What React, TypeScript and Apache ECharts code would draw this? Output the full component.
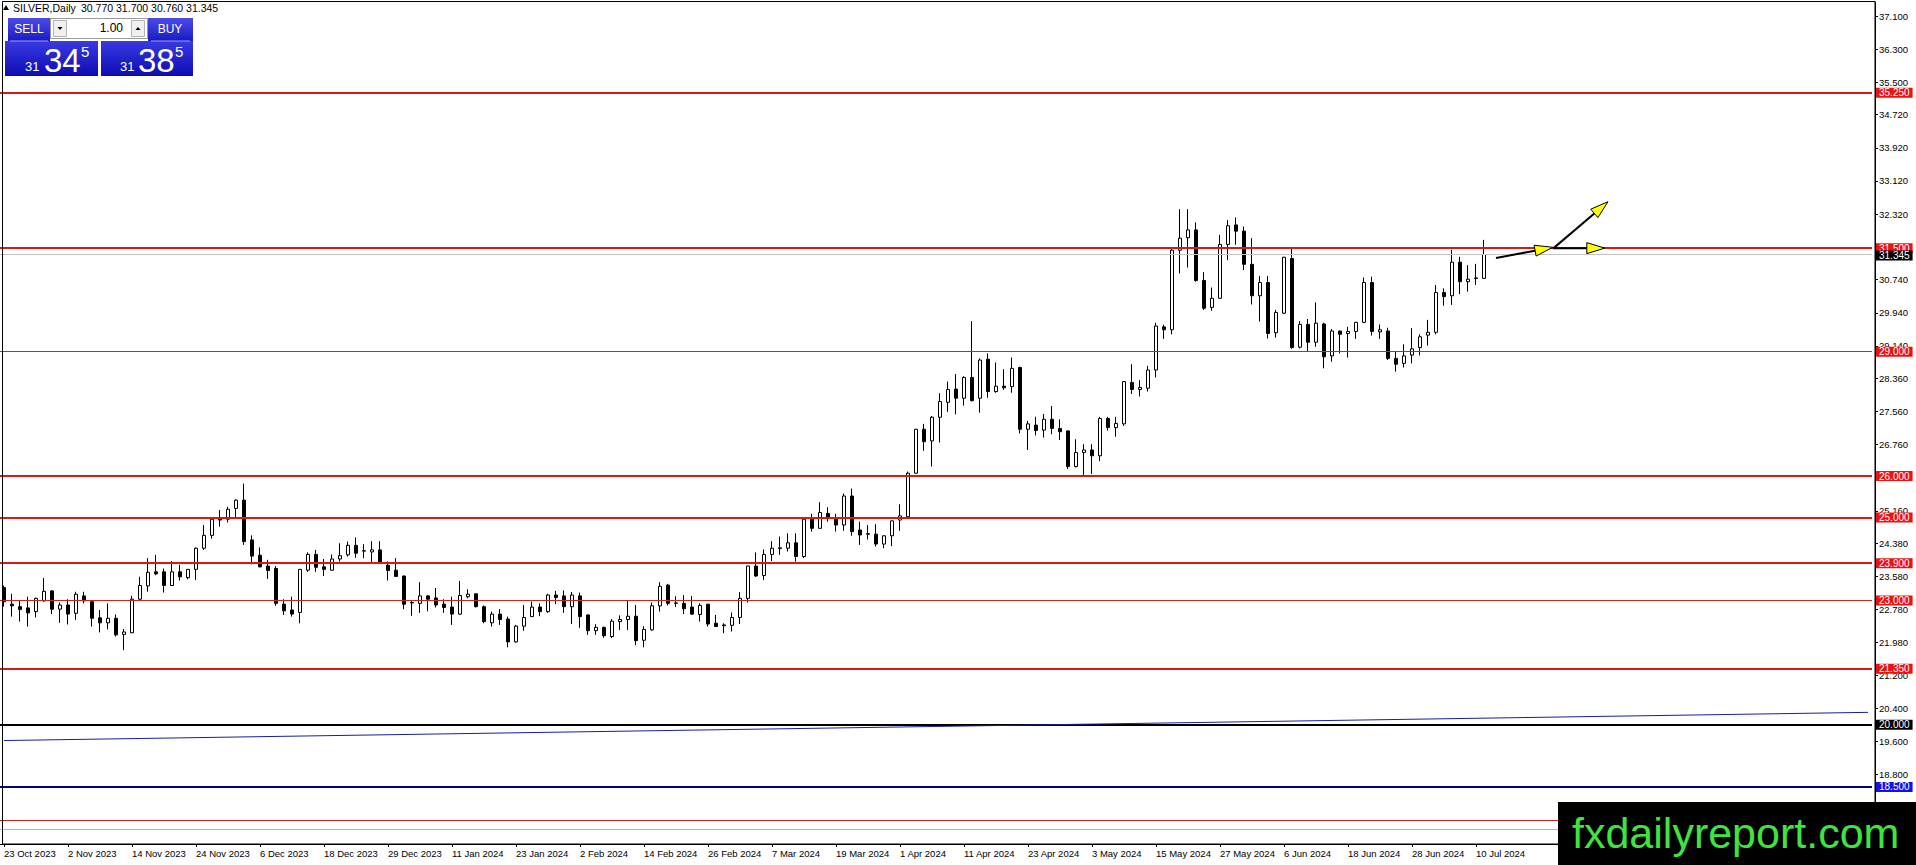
import React, { useEffect, useRef } from 'react';
import * as echarts from 'echarts';

// ---------- data ----------
const SYMBOL = 'SILVER';
const TIMEFRAME = 'Daily';
const START_DATE = '2023-10-23';
const HOLIDAYS = ['2023-12-25', '2024-01-01', '2024-03-29'];
const SLOT_COUNT = 234; // bar slots across the chart (incl. empty shift on the right)
const LABEL_EVERY = 8;
const MONTHS = ['Jan', 'Feb', 'Mar', 'Apr', 'May', 'Jun', 'Jul', 'Aug', 'Sep', 'Oct', 'Nov', 'Dec'];

const OPEN = [
  23.31, 22.91, 22.85, 22.82, 22.73, 22.99, 23.23, 22.79, 22.89, 22.69,
  23.11, 22.97, 22.58, 22.46, 22.57, 22.18, 22.22, 23.03, 23.35, 23.69,
  23.69, 23.36, 23.69, 23.55, 23.75, 24.26, 24.57, 24.97, 24.96, 25.22,
  25.42, 24.46, 24.09, 23.83, 23.77, 22.91, 22.77, 22.71, 23.73, 24.11,
  23.81, 23.73, 24.00, 24.10, 24.33, 24.19, 24.17, 24.22, 23.85, 23.73,
  23.59, 22.94, 22.93, 23.11, 23.06, 22.91, 22.84, 22.67, 23.09, 23.16,
  22.85, 22.46, 22.67, 22.55, 22.00, 22.38, 22.61, 22.84, 22.73, 23.13,
  23.11, 22.85, 23.11, 22.65, 22.27, 22.35, 22.13, 22.49, 22.54, 22.62,
  22.04, 22.29, 22.87, 23.37, 22.93, 22.93, 22.84, 22.66, 22.91, 22.45,
  22.41, 22.40, 22.59, 23.05, 23.83, 23.60, 24.11, 24.25, 24.26, 24.39,
  24.06, 24.96, 24.74, 25.10, 25.00, 24.82, 25.52, 24.70, 24.61, 24.60,
  24.36, 24.56, 24.94, 25.02, 26.07, 27.13, 26.85, 27.42, 27.78, 28.10,
  27.88, 28.38, 27.88, 28.82, 28.04, 28.17, 28.16, 28.62, 27.13, 27.23,
  27.11, 27.37, 27.15, 27.09, 26.23, 26.57, 26.63, 26.49, 27.39, 27.17,
  27.26, 28.26, 28.09, 28.12, 28.56, 29.60, 29.53, 31.45, 31.75, 31.94,
  30.72, 30.07, 30.29, 31.59, 32.06, 31.91, 31.11, 30.35, 30.67, 29.46,
  29.93, 31.25, 29.11, 29.66, 29.23, 29.67, 28.90, 29.50, 29.44, 29.49,
  29.71, 30.67, 29.48, 29.50, 28.84, 28.72, 28.92, 29.10, 29.40, 29.47,
  30.43, 30.35, 31.16, 30.69, 30.78, 30.77,
];
const HIGH = [
  23.36, 23.16, 23.01, 23.09, 23.07, 23.54, 23.25, 22.95, 23.03, 23.21,
  23.21, 23.01, 22.77, 22.93, 22.66, 22.31, 23.11, 23.57, 24.02, 24.10,
  23.77, 23.95, 23.86, 23.76, 24.28, 24.82, 24.98, 25.18, 25.26, 25.44,
  25.82, 24.57, 24.28, 23.98, 23.83, 23.03, 23.09, 23.76, 24.16, 24.22,
  24.00, 24.11, 24.38, 24.42, 24.52, 24.36, 24.43, 24.43, 23.94, 24.02,
  23.60, 23.01, 23.44, 23.13, 23.30, 23.03, 23.09, 23.47, 23.27, 23.17,
  22.88, 22.73, 22.79, 22.61, 22.41, 22.89, 22.97, 22.93, 23.16, 23.23,
  23.24, 23.20, 23.19, 22.66, 22.43, 22.37, 22.55, 22.64, 23.01, 22.89,
  22.38, 22.95, 23.44, 23.40, 23.10, 23.13, 23.11, 22.93, 22.92, 22.65,
  22.45, 22.71, 23.20, 23.84, 24.16, 24.23, 24.43, 24.54, 24.62, 24.62,
  24.98, 25.09, 25.37, 25.25, 25.09, 25.58, 25.70, 24.90, 24.82, 24.84,
  24.57, 24.93, 25.32, 26.11, 27.14, 27.26, 27.45, 28.00, 28.28, 28.46,
  28.41, 29.74, 28.84, 28.96, 28.74, 28.58, 28.86, 28.64, 27.33, 27.43,
  27.50, 27.69, 27.37, 27.10, 26.89, 26.77, 26.77, 27.43, 27.43, 27.43,
  28.29, 28.70, 28.32, 28.66, 29.70, 29.65, 31.50, 32.44, 32.44, 32.12,
  30.92, 30.55, 31.82, 32.18, 32.24, 32.02, 31.74, 30.83, 30.83, 30.01,
  31.29, 31.50, 29.74, 29.79, 30.19, 29.70, 29.55, 29.51, 29.60, 29.72,
  30.79, 30.81, 29.66, 29.58, 29.02, 29.18, 29.57, 29.42, 29.77, 30.61,
  30.53, 31.46, 31.29, 31.09, 31.12, 31.70,
];
const LOW = [
  22.85, 22.61, 22.49, 22.37, 22.59, 22.97, 22.67, 22.46, 22.42, 22.53,
  22.93, 22.37, 22.23, 22.30, 22.13, 21.80, 22.21, 22.99, 23.21, 23.61,
  23.19, 23.35, 23.48, 23.51, 23.49, 24.22, 24.49, 24.78, 24.88, 25.00,
  24.34, 23.87, 23.80, 23.52, 22.87, 22.65, 22.61, 22.45, 23.69, 23.69,
  23.59, 23.72, 23.94, 24.06, 24.03, 24.02, 23.89, 23.88, 23.48, 23.57,
  22.79, 22.63, 22.70, 22.74, 22.83, 22.70, 22.41, 22.65, 23.05, 22.83,
  22.45, 22.37, 22.41, 21.87, 21.98, 22.27, 22.60, 22.62, 22.70, 22.91,
  22.70, 22.43, 22.34, 22.17, 22.17, 22.10, 22.09, 22.29, 22.29, 21.92,
  21.87, 22.27, 22.73, 22.88, 22.84, 22.67, 22.65, 22.49, 22.37, 22.36,
  22.21, 22.25, 22.43, 22.95, 23.57, 23.49, 23.95, 24.10, 24.18, 23.94,
  24.02, 24.66, 24.73, 24.90, 24.66, 24.68, 24.56, 24.34, 24.47, 24.30,
  24.26, 24.31, 24.68, 25.01, 26.06, 26.61, 26.23, 26.81, 27.55, 27.49,
  27.70, 27.80, 27.53, 27.89, 28.01, 28.08, 28.01, 27.03, 26.63, 26.98,
  26.93, 27.01, 26.87, 26.17, 26.21, 26.00, 26.05, 26.36, 27.10, 26.95,
  27.21, 27.98, 27.92, 28.04, 28.38, 29.31, 29.42, 30.89, 31.03, 30.69,
  30.01, 29.99, 30.28, 31.21, 31.58, 30.97, 30.14, 29.73, 29.32, 29.34,
  29.91, 29.07, 29.08, 29.00, 29.12, 28.60, 28.76, 28.96, 28.86, 29.31,
  29.69, 29.39, 29.31, 28.80, 28.52, 28.62, 28.72, 28.91, 29.15, 29.42,
  30.11, 30.13, 30.39, 30.45, 30.61, 30.76,
];
const CLOSE = [
  22.97, 22.87, 22.78, 22.70, 23.05, 23.22, 22.79, 22.89, 22.67, 23.15,
  22.99, 22.57, 22.46, 22.57, 22.17, 22.24, 23.03, 23.36, 23.68, 23.64,
  23.36, 23.69, 23.57, 23.75, 24.26, 24.57, 24.96, 24.94, 25.20, 25.42,
  24.42, 24.07, 23.81, 23.72, 22.93, 22.75, 22.67, 23.75, 24.11, 23.80,
  23.75, 24.00, 24.08, 24.33, 24.14, 24.20, 24.22, 23.89, 23.72, 23.58,
  22.91, 22.95, 23.11, 23.03, 22.89, 22.83, 22.67, 23.12, 23.15, 22.85,
  22.49, 22.67, 22.54, 22.00, 22.38, 22.59, 22.84, 22.73, 23.13, 23.07,
  22.85, 23.13, 22.61, 22.27, 22.35, 22.15, 22.50, 22.54, 22.62, 22.03,
  22.30, 22.87, 23.34, 22.93, 22.94, 22.80, 22.67, 22.88, 22.43, 22.37,
  22.39, 22.59, 23.05, 23.83, 23.59, 24.11, 24.26, 24.27, 24.39, 24.06,
  24.96, 24.74, 25.12, 25.00, 24.82, 25.52, 24.66, 24.58, 24.60, 24.36,
  24.56, 24.92, 25.04, 26.07, 27.13, 26.83, 27.42, 27.80, 28.09, 27.88,
  28.38, 27.82, 28.80, 28.04, 28.17, 28.13, 28.60, 27.13, 27.26, 27.10,
  27.37, 27.15, 27.07, 26.23, 26.57, 26.63, 26.49, 27.39, 27.17, 27.27,
  28.28, 28.09, 28.14, 28.56, 29.62, 29.53, 31.45, 31.74, 31.94, 30.72,
  30.05, 30.29, 31.59, 32.04, 31.91, 31.11, 30.35, 30.67, 29.44, 29.95,
  31.28, 29.10, 29.66, 29.23, 29.69, 28.88, 29.50, 29.42, 29.49, 29.71,
  30.67, 29.49, 29.53, 28.84, 28.70, 28.90, 29.07, 29.36, 29.47, 30.43,
  30.33, 31.16, 30.69, 30.75, 30.77, 31.345,
];

const Y_TICKS = [
  18.8, 19.6, 20.4, 21.2, 21.98, 22.78, 23.58, 24.38, 25.16, 25.96, 26.76, 27.56,
  28.36, 29.14, 29.94, 30.74, 31.52, 32.32, 33.12, 33.92, 34.72, 35.5, 36.3, 37.1,
];
const Y_MIN = 17.124;
const Y_MAX = 37.438;

const LEVELS = [35.25, 31.5, 29.0, 26.0, 25.0, 23.9, 23.0, 21.35, 20.0, 18.5];
const LEVEL_KIND = ['thick', 'thick', 'thin', 'thick', 'thick', 'thick', 'thin', 'thick', 'black', 'navy'];
const LOWER_LEVELS = [17.7, 17.49];
const TRENDLINE = [[0, 19.62], [233, 20.3]];
const SPREAD = 0.04;
const ARROWS = [
  [[186.5, 31.26], [193.6, 31.52]],
  [[193.6, 31.5], [200.1, 31.5]],
  [[193.7, 31.5], [200.5, 32.62]],
];
const WATERMARK = 'fxdailyreport.com';

// ---------- helpers ----------
const FONT = '"Liberation Sans", Arial, sans-serif';

function buildDates(start: string, count: number, skip: string[]): string[] {
  const out: string[] = [];
  const d = new Date(start + 'T00:00:00Z');
  while (out.length < count) {
    const dow = d.getUTCDay();
    const iso = d.toISOString().slice(0, 10);
    if (dow !== 0 && dow !== 6 && !skip.includes(iso)) out.push(iso);
    d.setUTCDate(d.getUTCDate() + 1);
  }
  return out;
}

function fmtDate(iso: string): string {
  if (!iso) return '';
  const [y, m, d] = iso.split('-');
  return `${Number(d)} ${MONTHS[Number(m) - 1]} ${y}`;
}

function fmtPrice(v: number): string {
  return (Math.round(v * 1000) / 1000).toFixed(3);
}

const LEVEL_STYLE: Record<string, { color: string; width: number; bg: string }> = {
  thick: { color: '#e01515', width: 2, bg: '#ee1111' },
  thin: { color: '#d42020', width: 1, bg: '#ee1111' },
  black: { color: '#000000', width: 2, bg: '#000000' },
  navy: { color: '#00008b', width: 2, bg: '#1212e8' },
};

export default function App() {
  const ref = useRef<HTMLDivElement>(null);

  useEffect(() => {
    if (!ref.current) return;
    const chart = echarts.init(ref.current, undefined, { renderer: 'svg' });
    const n = OPEN.length;
    const dates = buildDates(START_DATE, n, HOLIDAYS);
    const slots = Array.from({ length: SLOT_COUNT }, (_, i) => (i < n ? dates[i] : ''));
    const candles = OPEN.map((o, i) => [o, CLOSE[i], LOW[i], HIGH[i]]);
    const lastClose = CLOSE[n - 1];
    const showLabel = (i: number) => i % LABEL_EVERY === 0 && i < n;

    const boxLabel = (bg: string, v: number) => {
      const text = fmtPrice(v);
      return {
        show: true,
        position: 'end',
        distance: 4,
        formatter: () => text,
        backgroundColor: bg,
        color: '#ffffff',
        fontFamily: FONT,
        fontSize: 10,
        lineHeight: 10,
        padding: [0, 3, 0, 3],
      };
    };

    const markData: any[] = [];
    LEVELS.forEach((v, k) => {
      const st = LEVEL_STYLE[LEVEL_KIND[k]];
      markData.push({ yAxis: v, lineStyle: { color: st.color, width: st.width, type: 'solid' }, label: boxLabel(st.bg, v) });
    });
    markData.push({ yAxis: lastClose, lineStyle: { color: '#c4c4c4', width: 1, type: 'solid' }, label: { ...boxLabel('#000000', lastClose), offset: [0, 1] } });
    markData.push({ yAxis: LOWER_LEVELS[0], lineStyle: { color: '#c81e1e', width: 1, type: 'solid' }, label: { show: false } });
    markData.push({ yAxis: LOWER_LEVELS[1], lineStyle: { color: '#e6b040', width: 1, type: 'solid' }, label: { show: false } });
    markData.push([
      { coord: TRENDLINE[0], lineStyle: { color: '#1c1ca0', width: 1, type: 'solid' }, label: { show: false } },
      { coord: TRENDLINE[1], lineStyle: { color: '#1c1ca0', width: 1, type: 'solid' }, label: { show: false } },
    ]);

    chart.setOption({
      animation: false,
      backgroundColor: '#ffffff',
      grid: { left: 0, right: 44, top: 2, bottom: 21 },
      xAxis: {
        type: 'category',
        data: slots,
        boundaryGap: true,
        axisLine: { show: true, lineStyle: { color: '#000', width: 1 } },
        axisTick: { show: true, interval: (i: number) => showLabel(i), alignWithLabel: true, length: 3, lineStyle: { color: '#000' } },
        axisLabel: {
          interval: (i: number) => showLabel(i),
          formatter: (v: string) => fmtDate(v),
          align: 'left',
          margin: 4,
          color: '#000',
          fontFamily: FONT,
          fontSize: 9.5,
        },
        splitLine: { show: false },
      },
      yAxis: {
        type: 'value',
        position: 'right',
        offset: 3,
        min: Y_MIN,
        max: Y_MAX,
        splitLine: { show: false },
        axisLine: { show: true, lineStyle: { color: '#000', width: 1 } },
        axisTick: { show: true, customValues: Y_TICKS, length: 3, lineStyle: { color: '#000' } },
        axisLabel: {
          customValues: Y_TICKS,
          formatter: (v: number) => v.toFixed(3),
          color: '#000',
          fontFamily: FONT,
          fontSize: 9.5,
          margin: 4,
        },
      },
      series: [
        {
          type: 'candlestick',
          data: candles,
          barWidth: 4,
          itemStyle: { color: '#ffffff', color0: '#000000', borderColor: '#000000', borderColor0: '#000000', borderWidth: 1 },
          markLine: { symbol: ['none', 'none'], silent: true, animation: false, precision: 3, data: markData },
        },
      ],
    });

    // pixel helpers from the chart's own axes
    const x0 = chart.convertToPixel({ xAxisIndex: 0 }, 0) as number;
    const x1 = chart.convertToPixel({ xAxisIndex: 0 }, 1) as number;
    const px = (i: number) => x0 + i * (x1 - x0);
    const py = (v: number) => chart.convertToPixel({ yAxisIndex: 0 }, v) as number;

    const arrowEls: any[] = [];
    ARROWS.forEach(([a, b]) => {
      const ax = px(a[0]), ay = py(a[1]);
      const bx = px(b[0]), by = py(b[1]);
      const len = Math.hypot(bx - ax, by - ay);
      const ux = (bx - ax) / len, uy = (by - ay) / len;
      const L = 18, W = 5.5;
      const cx = bx - ux * L, cy = by - uy * L;
      arrowEls.push({
        type: 'line', z: 60, silent: true,
        shape: { x1: ax, y1: ay, x2: cx, y2: cy },
        style: { stroke: '#000', lineWidth: 2 },
      });
      arrowEls.push({
        type: 'polygon', z: 61, silent: true,
        shape: { points: [[bx, by], [cx - uy * W, cy + ux * W], [cx + uy * W, cy - ux * W]] },
        style: { fill: '#ffff00', stroke: '#000', lineWidth: 1 },
      });
    });

    const bid = lastClose;
    const ask = lastClose + SPREAD;
    const parts = (p: number) => {
      const s = fmtPrice(p);
      return [s.slice(0, 2), s.slice(3, 5), s.slice(5)];
    };
    const [b1, b2, b3] = parts(bid);
    const [a1, a2, a3] = parts(ask);
    const blueGrad = {
      type: 'linear', x: 0, y: 0, x2: 0, y2: 1,
      colorStops: [{ offset: 0, color: '#3a3ae4' }, { offset: 1, color: '#0c0cb0' }],
    };
    const btnGrad = {
      type: 'linear', x: 0, y: 0, x2: 0, y2: 1,
      colorStops: [{ offset: 0, color: '#4b4bea' }, { offset: 1, color: '#1a1ac4' }],
    };
    const header = [OPEN[n - 1], HIGH[n - 1], LOW[n - 1], CLOSE[n - 1]].map(fmtPrice).join(' ');

    const panel: any[] = [
      // header
      { type: 'polygon', z: 70, silent: true, shape: { points: [[3, 10], [9, 10], [6, 5]] }, style: { fill: '#000' } },
      { type: 'text', z: 70, silent: true, style: { text: `${SYMBOL},${TIMEFRAME}`, x: 13, y: 8, fill: '#000', font: `10.5px ${FONT}`, textVerticalAlign: 'middle' } },
      { type: 'text', z: 70, silent: true, style: { text: header, x: 81, y: 8, fill: '#000', font: `10.5px ${FONT}`, textVerticalAlign: 'middle' } },
      // price boxes
      { type: 'rect', z: 70, silent: true, shape: { x: 5, y: 41, width: 93, height: 35 }, style: { fill: blueGrad } },
      { type: 'rect', z: 70, silent: true, shape: { x: 101, y: 41, width: 92, height: 35 }, style: { fill: blueGrad } },
      // SELL / BUY buttons
      { type: 'rect', z: 71, silent: true, shape: { x: 8, y: 18, width: 42, height: 23 }, style: { fill: btnGrad } },
      { type: 'rect', z: 71, silent: true, shape: { x: 148, y: 18, width: 45, height: 23 }, style: { fill: btnGrad } },
      { type: 'line', z: 72, silent: true, shape: { x1: 10, y1: 41, x2: 48, y2: 41 }, style: { stroke: '#9a9af4', lineWidth: 1 } },
      { type: 'line', z: 72, silent: true, shape: { x1: 151, y1: 41, x2: 190, y2: 41 }, style: { stroke: '#9a9af4', lineWidth: 1 } },
      { type: 'text', z: 72, silent: true, style: { text: 'SELL', x: 29, y: 29, fill: '#fff', font: `12px ${FONT}`, textAlign: 'center', textVerticalAlign: 'middle' } },
      { type: 'text', z: 72, silent: true, style: { text: 'BUY', x: 170, y: 29, fill: '#fff', font: `12px ${FONT}`, textAlign: 'center', textVerticalAlign: 'middle' } },
      // lot field
      { type: 'rect', z: 71, silent: true, shape: { x: 50.5, y: 18.5, width: 97, height: 20 }, style: { fill: '#fff', stroke: '#9a9a9a', lineWidth: 1 } },
      { type: 'rect', z: 72, silent: true, shape: { x: 53.5, y: 20.5, width: 13, height: 16 }, style: { fill: '#f0f0f0', stroke: '#b4b4b4', lineWidth: 1 } },
      { type: 'polygon', z: 73, silent: true, shape: { points: [[57.5, 27], [62.5, 27], [60, 30]] }, style: { fill: '#000' } },
      { type: 'rect', z: 72, silent: true, shape: { x: 131.5, y: 20.5, width: 13, height: 16 }, style: { fill: '#f0f0f0', stroke: '#b4b4b4', lineWidth: 1 } },
      { type: 'polygon', z: 73, silent: true, shape: { points: [[135.5, 30], [140.5, 30], [138, 27]] }, style: { fill: '#000' } },
      { type: 'text', z: 72, silent: true, style: { text: '1.00', x: 123, y: 28, fill: '#000', font: `12px ${FONT}`, textAlign: 'right', textVerticalAlign: 'middle' } },
      // bid
      { type: 'text', z: 72, silent: true, style: { text: b1, x: 25, y: 73, fill: '#fff', font: `13px ${FONT}`, textVerticalAlign: 'bottom' } },
      { type: 'text', z: 72, silent: true, style: { text: b2, x: 44, y: 77, fill: '#fff', font: `33px ${FONT}`, textVerticalAlign: 'bottom' } },
      { type: 'text', z: 72, silent: true, style: { text: b3, x: 81, y: 44, fill: '#fff', font: `15px ${FONT}`, textVerticalAlign: 'top' } },
      // ask
      { type: 'text', z: 72, silent: true, style: { text: a1, x: 120, y: 73, fill: '#fff', font: `13px ${FONT}`, textVerticalAlign: 'bottom' } },
      { type: 'text', z: 72, silent: true, style: { text: a2, x: 138, y: 77, fill: '#fff', font: `33px ${FONT}`, textVerticalAlign: 'bottom' } },
      { type: 'text', z: 72, silent: true, style: { text: a3, x: 175, y: 44, fill: '#fff', font: `15px ${FONT}`, textVerticalAlign: 'top' } },
    ];

    const frame = {
      type: 'rect', z: 50, silent: true,
      shape: { x: 2.5, y: 1.5, width: 1872.5, height: 842.5 },
      style: { fill: 'none', stroke: '#000', lineWidth: 1 },
    };
    const watermark: any[] = [
      { type: 'rect', z: 100, silent: true, shape: { x: 1558, y: 802, width: 358, height: 63 }, style: { fill: '#000' } },
      { type: 'text', z: 101, silent: true, style: { text: WATERMARK, x: 1572, y: 833, fill: '#3fe43f', font: `43px ${FONT}`, textVerticalAlign: 'middle' } },
    ];

    chart.setOption({ graphic: [frame, ...arrowEls, ...panel, ...watermark] });

    return () => chart.dispose();
  }, []);

  return (
    <div style={{ position: 'fixed', left: 0, top: 0, width: 1916, height: 865, background: '#fff' }}>
      <div ref={ref} style={{ width: 1916, height: 865 }} />
    </div>
  );
}
